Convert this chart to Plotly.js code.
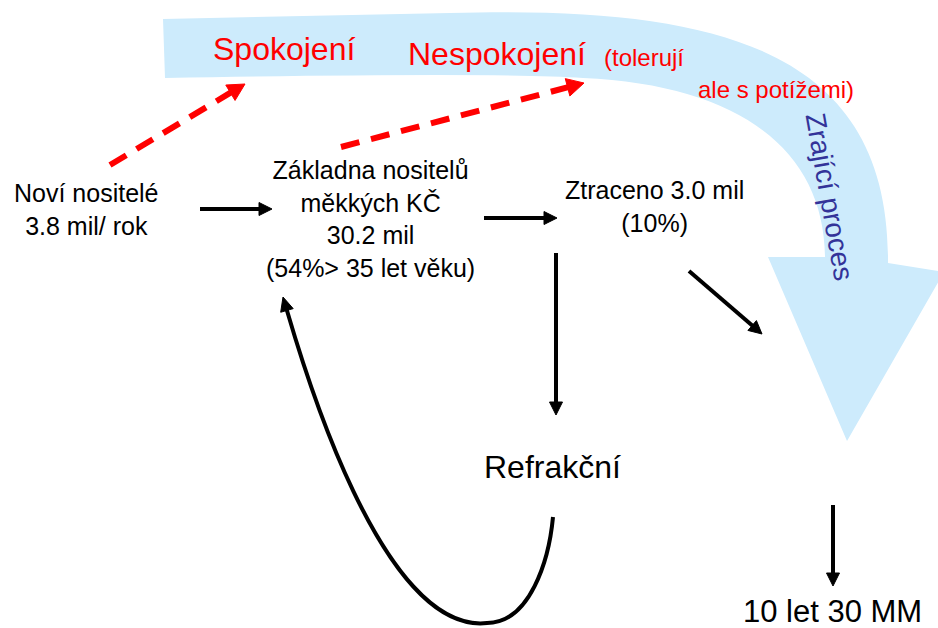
<!DOCTYPE html>
<html>
<head>
<meta charset="utf-8">
<script src="https://cdn.plot.ly/plotly-3.0.1.min.js"></script>
<style>html,body{margin:0;padding:0;background:#fff;}</style>
</head>
<body>
<div id="chart" style="width:938px;height:628px;"></div>
<script>
// ---- diagram content ----
var nodeTexts = [
  "Noví nositelé<br>3.8 mil/ rok",
  "Základna nositelů<br>měkkých KČ<br>30.2 mil<br>(54%> 35 let věku)",
  "Ztraceno 3.0 mil<br>(10%)",
  "Refrakční",
  "10 let 30 MM"
];
var nodeX = [86, 370, 654, 552, 832];
var nodeY = [209, 219, 206, 467, 611];
var nodeSize = [25, 25, 25, 32, 31];

var redTexts = ["Spokojení", "Nespokojení", "(tolerují", "ale s potížemi)"];
var redX = [284, 497, 644, 776];
var redY = [49, 54, 57, 89];
var redSize = [32, 32, 24, 24];

var bandText = "Zrající proces";
var bandTextX = 830, bandTextY = 197, bandTextAngle = 80;

// straight black arrows: [tailX, tailY, tipX, tipY]
var blackArrows = [
  [200, 209, 272, 209],
  [484, 218, 557, 218],
  [556, 253, 556, 415],
  [689, 271, 762, 334],
  [833, 505, 833, 586]
];
// dashed red arrows
var redArrows = [
  [110, 165, 245, 84],
  [341, 147, 584, 83]
];
// curved return arrow (two cubic segments), ends at tip
var curveStart = [553, 517];
var curveSeg1 = [[549, 560], [530, 623], [487, 623]];
var curveSeg2 = [[380, 635], [300, 355], [283, 297]];

// big light-blue maturing arrow outline
var bandPath = "M163,19 L450,13 C720,5 890,50 888,263 L944,272 L847,441 L768,257 L825,257 " +
               "C824,150 740,85 583,78 Q500,72 165,78 Z";

// ---- helpers ----
function headPath(x0, y0, x1, y1, L, W) {
  var dx = x1 - x0, dy = y1 - y0, d = Math.sqrt(dx*dx + dy*dy);
  var ux = dx/d, uy = dy/d;
  var bx = x1 - L*ux, by = y1 - L*uy;
  var px = -uy*W, py = ux*W;
  return "M" + x1 + "," + y1 + " L" + (bx+px) + "," + (by+py) + " L" + (bx-px) + "," + (by-py) + " Z";
}
function baseOf(x0, y0, x1, y1, L) {
  var dx = x1 - x0, dy = y1 - y0, d = Math.sqrt(dx*dx + dy*dy);
  return [x1 - L*dx/d, y1 - L*dy/d];
}

var shapes = [];
shapes.push({type:"path", xref:"x", yref:"y", path: bandPath,
  fillcolor:"#cdebfc", line:{width:0}, layer:"below"});

blackArrows.forEach(function(a){
  var b = baseOf(a[0], a[1], a[2], a[3], 11);
  shapes.push({type:"line", xref:"x", yref:"y", x0:a[0], y0:a[1], x1:b[0], y1:b[1],
    line:{color:"#000", width:4}});
  shapes.push({type:"path", xref:"x", yref:"y", path: headPath(a[0], a[1], a[2], a[3], 13, 6.5),
    fillcolor:"#000", line:{color:"#000", width:1}});
});

redArrows.forEach(function(a){
  var b = baseOf(a[0], a[1], a[2], a[3], 14);
  shapes.push({type:"line", xref:"x", yref:"y", x0:a[0], y0:a[1], x1:b[0], y1:b[1],
    line:{color:"#ff0000", width:6, dash:"19px,12px"}});
  shapes.push({type:"path", xref:"x", yref:"y", path: headPath(a[0], a[1], a[2], a[3], 17, 9),
    fillcolor:"#ff0000", line:{color:"#ff0000", width:1}});
});

var p = curveSeg2[2], q = curveSeg2[1];
var cb = baseOf(q[0], q[1], p[0], p[1], 12);
var curvePath = "M" + curveStart[0] + "," + curveStart[1] +
  " C" + curveSeg1[0].join(",") + " " + curveSeg1[1].join(",") + " " + curveSeg1[2].join(",") +
  " C" + curveSeg2[0].join(",") + " " + curveSeg2[1].join(",") + " " + cb.join(",");
shapes.push({type:"path", xref:"x", yref:"y", path: curvePath, line:{color:"#000", width:4}});
shapes.push({type:"path", xref:"x", yref:"y", path: headPath(q[0], q[1], p[0], p[1], 14, 6.5),
  fillcolor:"#000", line:{color:"#000", width:1}});

var annotations = [];
nodeTexts.forEach(function(t, i){
  annotations.push({x:nodeX[i], y:nodeY[i], xref:"x", yref:"y", text:t, showarrow:false,
    xanchor:"center", yanchor:"middle", align:"center",
    font:{family:"Liberation Sans, Arial, sans-serif", size:nodeSize[i], color:"#000"}});
});
redTexts.forEach(function(t, i){
  annotations.push({x:redX[i], y:redY[i], xref:"x", yref:"y", text:t, showarrow:false,
    xanchor:"center", yanchor:"middle",
    font:{family:"Liberation Sans, Arial, sans-serif", size:redSize[i], color:"#ff0000"}});
});
annotations.push({x:bandTextX, y:bandTextY, xref:"x", yref:"y", text:bandText, showarrow:false,
  textangle:bandTextAngle, xanchor:"center", yanchor:"middle",
  font:{family:"Liberation Sans, Arial, sans-serif", size:28, color:"#333399"}});

var layout = {
  width:938, height:628,
  margin:{l:0, r:0, t:0, b:0},
  paper_bgcolor:"#fff", plot_bgcolor:"#fff",
  xaxis:{range:[0,938], visible:false, fixedrange:true},
  yaxis:{range:[628,0], visible:false, fixedrange:true},
  showlegend:false,
  shapes:shapes,
  annotations:annotations
};
Plotly.newPlot("chart", [{x:[], y:[], type:"scatter", mode:"markers", hoverinfo:"skip"}], layout,
  {staticPlot:true, displayModeBar:false});
</script>
</body>
</html>
